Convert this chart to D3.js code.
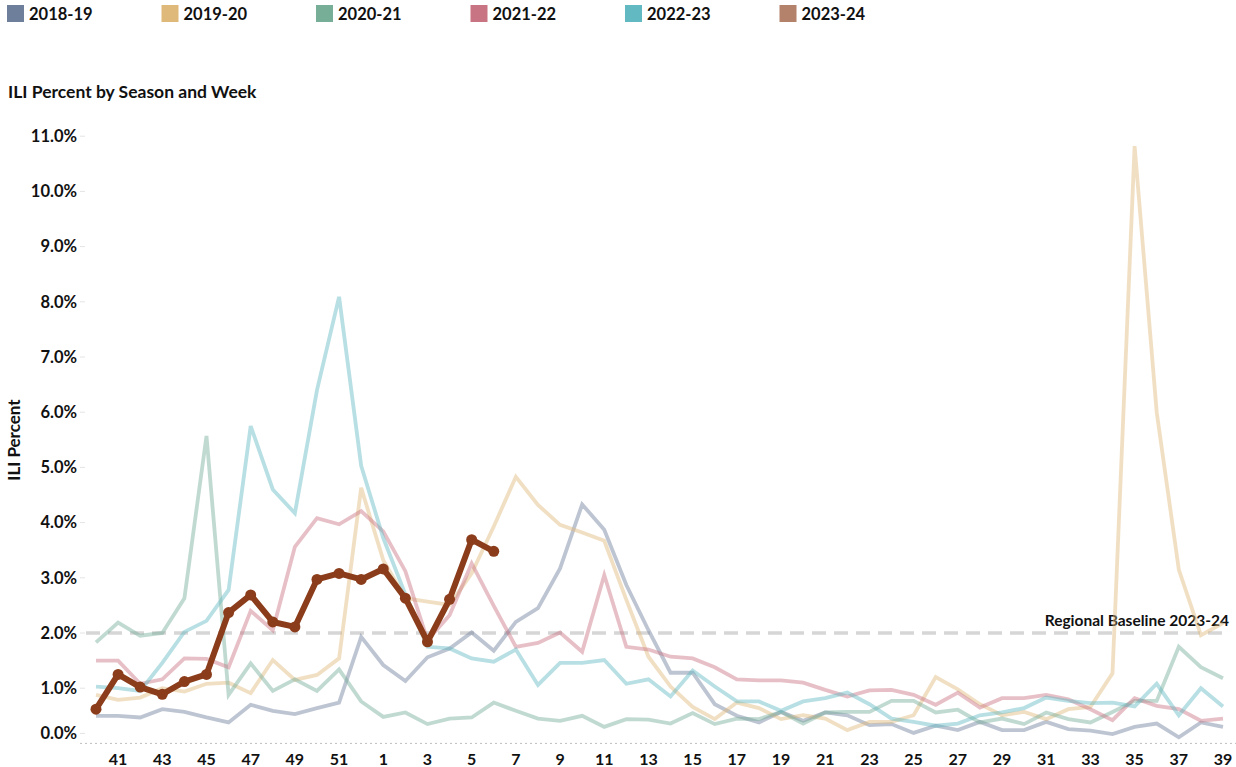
<!DOCTYPE html>
<html>
<head>
<meta charset="utf-8">
<script src="https://cdn.jsdelivr.net/npm/d3@7/dist/d3.min.js"></script>
<style>
  html, body { margin: 0; padding: 0; background: #fff; }
  svg { display: block; font-family: Lato, "Open Sans", sans-serif; }
  text { font-weight: 700; fill: #111; }
</style>
</head>
<body>
<svg id="chart" width="1236" height="767"></svg>
<script>
const weeks = [40,41,42,43,44,45,46,47,48,49,50,51,52,1,2,3,4,5,6,7,8,9,10,11,12,13,14,15,16,17,18,19,20,21,22,23,24,25,26,27,28,29,30,31,32,33,34,35,36,37,38,39];
const seasons = ["2018-19","2019-20","2020-21","2021-22","2022-23","2023-24"];
const seasonColors = ["#6e7f9c","#dfb97a","#76ae98","#c97482","#62b9c1","#b4826b"];
const currentColor = "#8b3d1b";
const yTicks = [0,1,2,3,4,5,6,7,8,9,10,11];
const baselineValue = 2.0;
const baselineLabel = "Regional Baseline 2023-24";

const v2018 = [0.50,0.50,0.47,0.62,0.57,0.47,0.38,0.70,0.59,0.53,0.64,0.74,1.93,
  1.42,1.13,1.56,1.72,2.01,1.68,2.20,2.45,3.17,4.33,3.87,
  2.87,2.05,1.28,1.28,0.71,0.50,0.38,0.57,0.41,
  0.56,0.51,0.33,0.35,0.19,0.32,0.24,0.39,0.24,0.24,0.39,0.26,0.23,0.17,0.30,0.36,0.11,0.38,0.30];
const v2019 = [0.88,0.79,0.83,1.00,0.94,1.08,1.10,0.91,1.51,1.15,1.24,1.54,4.63,
  3.32,2.63,2.57,2.51,3.08,3.93,4.83,4.32,3.96,3.82,3.67,
  2.60,1.57,1.03,0.66,0.44,0.74,0.64,0.44,0.51,
  0.45,0.24,0.39,0.39,0.51,1.20,0.98,0.71,0.51,0.57,0.44,0.62,0.66,1.27,10.82,6.00,3.15,1.96,2.18];
const v2020 = [1.83,2.19,1.95,2.00,2.63,5.57,0.88,1.45,0.95,1.16,0.95,1.34,0.76,
  0.48,0.56,0.35,0.45,0.47,0.74,0.59,0.45,0.41,0.50,0.30,
  0.44,0.43,0.36,0.55,0.35,0.45,0.44,0.57,0.36,
  0.56,0.57,0.57,0.77,0.77,0.56,0.61,0.38,0.45,0.35,0.56,0.44,0.38,0.57,0.77,0.77,1.75,1.38,1.18];
const v2021 = [1.50,1.50,1.08,1.16,1.54,1.53,1.38,2.40,2.05,3.56,4.08,3.97,4.21,
  3.84,3.12,1.87,2.32,3.26,2.49,1.75,1.82,2.01,1.66,3.05,
  1.75,1.70,1.57,1.54,1.38,1.16,1.14,1.14,1.10,
  0.97,0.85,0.96,0.97,0.88,0.70,0.92,0.65,0.82,0.82,0.88,0.80,0.62,0.42,0.82,0.68,0.62,0.41,0.45];
const v2022 = [1.03,1.00,0.95,1.46,2.02,2.22,2.78,5.75,4.60,4.17,6.40,8.09,5.03,
  3.72,2.70,1.75,1.72,1.54,1.48,1.70,1.06,1.46,1.46,1.51,
  1.08,1.16,0.85,1.32,1.03,0.76,0.76,0.59,0.76,
  0.82,0.92,0.71,0.45,0.39,0.32,0.36,0.51,0.56,0.64,0.83,0.77,0.73,0.74,0.67,1.08,0.51,1.00,0.67];
const v2023 = [0.62,1.25,1.02,0.89,1.12,1.25,2.37,2.69,2.20,2.11,2.97,3.08,2.97,3.16,2.63,1.84,2.61,3.69,3.48];

const pastSeries = [v2018, v2019, v2020, v2021, v2022];

const svg = d3.select("#chart");
const x = d3.scalePoint().domain(d3.range(weeks.length)).range([96, 1223]);
const y = d3.scaleLinear().domain([0, 11]).range([743.4, 136.2]);

// Legend
const legend = svg.append("g");
seasons.forEach((s, i) => {
  const lx = 7 + i * 154.5;
  legend.append("rect").attr("x", lx).attr("y", 5).attr("width", 17).attr("height", 17)
    .attr("fill", seasonColors[i]);
  legend.append("text").attr("x", lx + 22).attr("y", 20).attr("font-size", 16.5)
    .text(s);
});

// Title
svg.append("text").attr("x", 8).attr("y", 98).attr("font-size", 17.5)
  .text("ILI Percent by Season and Week");

// Y axis title
svg.append("text").attr("transform", "translate(20,440) rotate(-90)")
  .attr("text-anchor", "middle").attr("font-size", 17).text("ILI Percent");

// Y ticks
const yAxis = svg.append("g");
yTicks.forEach(t => {
  const yy = y(t) - (t === 0 ? 10 : 0);
  yAxis.append("text").attr("x", 77).attr("y", yy).attr("dy", "0.35em")
    .attr("text-anchor", "end").attr("font-size", 16.5).text(d3.format(".1f")(t) + "%");
  yAxis.append("line").attr("x1", 80).attr("x2", 85).attr("y1", yy).attr("y2", yy)
    .attr("stroke", "#e4e4e4").attr("stroke-width", 1);
});

// Bottom axis (dotted)
svg.append("line").attr("x1", 80).attr("x2", 1236).attr("y1", y(0)).attr("y2", y(0))
  .attr("stroke", "#bdbdbd").attr("stroke-width", 1).attr("stroke-dasharray", "2,3");

// X tick labels
const xAxis = svg.append("g");
weeks.forEach((w, i) => {
  if (w % 2 === 1) {
    xAxis.append("text").attr("x", x(i)).attr("y", 759).attr("dy", "0.35em")
      .attr("text-anchor", "middle").attr("font-size", 16).text(w);
  }
});

// Baseline
svg.append("line").attr("x1", 86).attr("x2", 1230)
  .attr("y1", y(baselineValue)).attr("y2", y(baselineValue))
  .attr("stroke", "#d6d6d6").attr("stroke-width", 3.5).attr("stroke-dasharray", "14,8");
svg.append("text").attr("x", 1229).attr("y", y(baselineValue) - 7)
  .attr("text-anchor", "end").attr("font-size", 15.5).text(baselineLabel);

// Lines
const line = d3.line().x((d, i) => x(i)).y(d => y(d));
pastSeries.forEach((vals, k) => {
  svg.append("path").datum(vals).attr("d", line)
    .attr("fill", "none").attr("stroke", seasonColors[k]).attr("stroke-width", 3.8)
    .attr("stroke-opacity", 0.45).attr("stroke-linejoin", "miter");
});

// Current season
svg.append("path").datum(v2023).attr("d", line)
  .attr("fill", "none").attr("stroke", currentColor).attr("stroke-width", 6)
  .attr("stroke-linejoin", "round");
svg.append("g").selectAll("circle").data(v2023).join("circle")
  .attr("cx", (d, i) => x(i)).attr("cy", d => y(d)).attr("r", 5.5)
  .attr("fill", currentColor);
</script>
</body>
</html>
